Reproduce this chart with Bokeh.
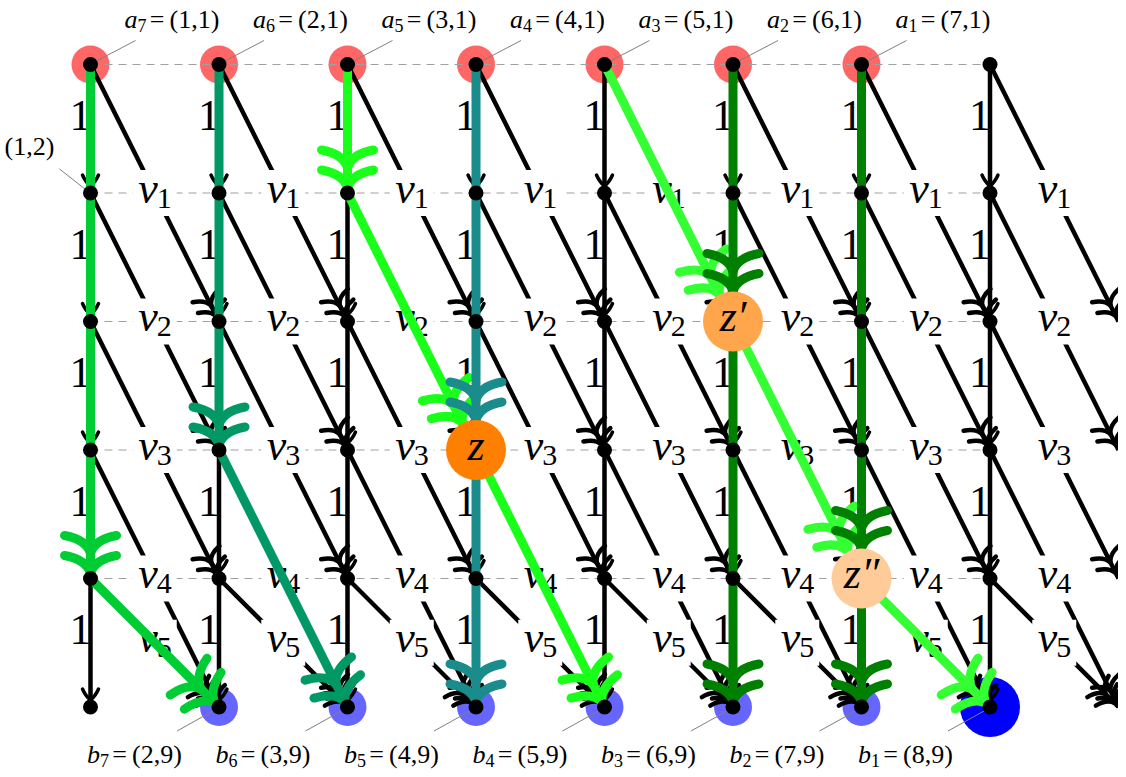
import math
from bokeh.plotting import figure
from bokeh.models import Range1d
from bokeh.core.properties import value
from bokeh.embed import file_html
from bokeh.resources import INLINE

# ---------------- data ----------------
cols = [1, 2, 3, 4, 5, 6, 7, 8]
rows = [1, 2, 3, 4, 5, 6]
dashed_rows = [1, 2, 3, 4, 5]
vertical_label = "1"
diag_subs = ["1", "2", "3", "4", "5"]          # v_k for diagonals leaving row k

a_cols = [1, 2, 3, 4, 5, 6, 7]
a_subs = ["7", "6", "5", "4", "3", "2", "1"]
a_coords = ["(1,1)", "(2,1)", "(3,1)", "(4,1)", "(5,1)", "(6,1)", "(7,1)"]
b_cols = [2, 3, 4, 5, 6, 7, 8]
b_subs = ["7", "6", "5", "4", "3", "2", "1"]
b_coords = ["(2,9)", "(3,9)", "(4,9)", "(5,9)", "(6,9)", "(7,9)", "(8,9)"]
extra_col, extra_row, extra_text = 1, 2, "(1,2)"

z_cols = [4, 6, 7]
z_rows = [4, 3, 5]
z_texts = ["z", "z\u2032", "z\u2033"]
z_colors = ["#FF8000", "#FFA64D", "#FFCC99"]

path_colors = ["#00CC33", "#009966", "#1AFF1A", "#1A8C8C", "#33FF33", "#008000", "#008000"]
path_cols = [[1, 1, 2], [2, 2, 3], [3, 3, 4, 5], [4, 4, 4], [5, 6, 7, 8], [6, 6, 6], [7, 7, 7]]
path_rows = [[1, 5, 6], [1, 4, 6], [1, 2, 4, 6], [1, 4, 6], [1, 3, 5, 6], [1, 3, 6], [1, 5, 6]]

# ---------------- figure ----------------
S = 128.5                      # pixels per grid unit
W, H = 1118, 769
X0 = 1 - 90 / S
Y0 = 1 - 64 / S
p = figure(width=W, height=H, x_range=Range1d(X0, X0 + W / S), y_range=Range1d(Y0 + H / S, Y0),
           x_axis_type=None, y_axis_type=None, output_backend="svg", toolbar_location=None,
           min_border=0, outline_line_color=None, background_fill_color="white")
p.grid.visible = False

SERIF = value("Liberation Serif")
top, bottom = rows[0], rows[-1]
last_col = cols[-1]


def txt(xs, ys, texts, size, align="left", style="normal", xo=0, yo=0):
    # yo is the wanted baseline offset in pixels; compensate renderer's baseline shift
    p.text(x=xs, y=ys, text=texts, text_font=SERIF, text_font_size=f"{size}px",
           text_font_style=style, text_align=align, text_baseline="alphabetic",
           x_offset=xo, y_offset=yo - round(0.34 * size), text_color="black")


def chevrons(store, tx, ty, dx, dy, count, spacing, bc, lc, be, le):
    nx, ny = -dy, dx
    for k in range(count):
        bx = tx - dx * spacing * k / S
        by = ty - dy * spacing * k / S
        for s in (1, -1):
            store["x0"].append(bx); store["y0"].append(by)
            store["cx"].append(bx - dx * bc / S + s * nx * lc / S)
            store["cy"].append(by - dy * bc / S + s * ny * lc / S)
            store["x1"].append(bx - dx * be / S + s * nx * le / S)
            store["y1"].append(by - dy * be / S + s * ny * le / S)


def new_store():
    return {"x0": [], "y0": [], "x1": [], "y1": [], "cx": [], "cy": []}


def unit(x0, y0, x1, y1):
    L = math.hypot(x1 - x0, y1 - y0)
    return (x1 - x0) / L, (y1 - y0) / L

# ---------------- a / b highlight circles ----------------
p.scatter(a_cols, [top] * len(a_cols), size=38, fill_color="#FF6666", line_color=None)
b_small = [c for c, s in zip(b_cols, b_subs) if s != "1"]
b_big = [c for c, s in zip(b_cols, b_subs) if s == "1"]
p.scatter(b_small, [bottom] * len(b_small), size=38, fill_color="#6666FF", line_color=None)
p.scatter(b_big, [bottom] * len(b_big), size=60, fill_color="#0000FF", line_color=None)

# ---------------- dashed row lines ----------------
p.segment(x0=[cols[0]] * len(dashed_rows), y0=dashed_rows, x1=[last_col] * len(dashed_rows),
          y1=dashed_rows, line_color="#A0A0A0", line_width=1.2, line_dash="8 6")

# ---------------- pin lines ----------------
pin_x0, pin_y0, pin_x1, pin_y1 = [], [], [], []
for c in a_cols:
    pin_x0.append(c + 5 / S); pin_y0.append(top - 3 / S)
    pin_x1.append(c + 45 / S); pin_y1.append(top - 24 / S)
for c in b_cols:
    pin_x0.append(c - 6 / S); pin_y0.append(bottom + 4 / S)
    pin_x1.append(c - 42 / S); pin_y1.append(bottom + 24 / S)
pin_x0.append(extra_col - 3 / S); pin_y0.append(extra_row - 2 / S)
pin_x1.append(extra_col - 31 / S); pin_y1.append(extra_row - 24 / S)
p.segment(x0=pin_x0, y0=pin_y0, x1=pin_x1, y1=pin_y1, line_color="#808080", line_width=1)

# ---------------- black edges ----------------
vx0, vy0, vx1, vy1 = [], [], [], []
dx0, dy0, dx1, dy1 = [], [], [], []
vstore, dstore = new_store(), new_store()
lab_x, lab_y, lab_sub = [], [], []
one_x, one_y = [], []
for c in cols:
    for r in rows[:-1]:
        # vertical edge
        vx0.append(c); vy0.append(r); vx1.append(c); vy1.append(r + 1)
        chevrons(vstore, c, r + 1 - 7 / S, 0, 1, 1, 0, 4, 5, 11, 8)
        one_x.append(c); one_y.append(r + 0.5)
        # diagonal edge
        r2 = min(r + 2, bottom)
        dx0.append(c); dy0.append(r); dx1.append(c + 1); dy1.append(r2)
        ux, uy = unit(c, r, c + 1, r2)
        chevrons(dstore, c + 1 - ux * 6 / S, r2 - uy * 6 / S, ux, uy, 2, 12, 8, 3, 11, 15)
        lab_x.append(c + 0.5); lab_y.append((r + r2) / 2); lab_sub.append(diag_subs[r - 1])

p.segment(x0=vx0, y0=vy0, x1=vx1, y1=vy1, line_color="black", line_width=4.5)
p.segment(x0=dx0, y0=dy0, x1=dx1, y1=dy1, line_color="black", line_width=4.5)
p.quadratic(**vstore, line_color="black", line_width=3.5, line_cap="round")
p.quadratic(**dstore, line_color="black", line_width=4.5, line_cap="round")

# ---------------- edge labels ----------------
p.rect(x=lab_x, y=lab_y, width=44, height=46, width_units="screen", height_units="screen",
       fill_color="white", line_color=None)
txt(lab_x, lab_y, ["v"] * len(lab_x), 44, align="right", style="italic", xo=3, yo=10)
txt(lab_x, lab_y, lab_sub, 30, align="left", xo=2, yo=15)
txt(one_x, one_y, [vertical_label] * len(one_x), 44, align="right", xo=1, yo=2)

# ---------------- coloured paths ----------------
z_set = set(zip(z_cols, z_rows))
for color, pc, pr in zip(path_colors, path_cols, path_rows):
    sx0, sy0, sx1, sy1 = [], [], [], []
    store = new_store()
    for i in range(len(pc) - 1):
        xa, ya, xb, yb = pc[i], pr[i], pc[i + 1], pr[i + 1]
        ux, uy = unit(xa, ya, xb, yb)
        short = 30 if (xb, yb) in z_set else 5
        tx, ty = xb - ux * short / S, yb - uy * short / S
        sx0.append(xa); sy0.append(ya); sx1.append(tx); sy1.append(ty)
        chevrons(store, tx, ty, ux, uy, 2, 20, 14, 4, 18, 26)
    p.segment(x0=sx0, y0=sy0, x1=sx1, y1=sy1, line_color=color, line_width=9)
    p.quadratic(**store, line_color=color, line_width=9, line_cap="round")

# ---------------- node dots ----------------
nx_, ny_ = [], []
for c in cols:
    for r in rows:
        nx_.append(c); ny_.append(r)
p.scatter(nx_, ny_, size=15, fill_color="black", line_color=None)

# ---------------- z nodes ----------------
p.scatter(z_cols, z_rows, size=60, fill_color=z_colors, line_color=None)
txt(z_cols, z_rows, z_texts, 44, align="center", style="italic", yo=10)

# ---------------- a / b labels ----------------
txt(a_cols, [top] * len(a_cols), ["a"] * len(a_cols), 26, align="right", style="italic", xo=47, yo=-36)
txt(a_cols, [top] * len(a_cols), a_subs, 18, align="left", xo=47, yo=-33)
txt(a_cols, [top] * len(a_cols), ["\u2009=\u2009" + s for s in a_coords], 26, align="left", xo=54, yo=-36)

txt(b_cols, [bottom] * len(b_cols), ["b"] * len(b_cols), 26, align="right", style="italic", xo=-119, yo=56)
txt(b_cols, [bottom] * len(b_cols), b_subs, 18, align="left", xo=-119, yo=59)
txt(b_cols, [bottom] * len(b_cols), ["\u2009=\u2009" + s for s in b_coords], 26, align="left", xo=-112, yo=56)

txt([extra_col], [extra_row], [extra_text], 26, align="center", xo=-61, yo=-38)

open("out.html", "w").write(file_html(p, INLINE))
